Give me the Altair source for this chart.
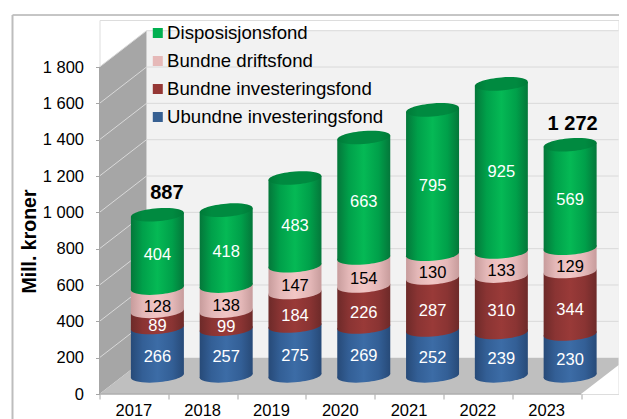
import altair as alt
import pandas as pd

years = ["2017", "2018", "2019", "2020", "2021", "2022", "2023"]
ubundne = [266, 257, 275, 269, 252, 239, 230]
bundne_inv = [89, 99, 184, 226, 287, 310, 344]
bundne_drift = [128, 138, 147, 154, 130, 133, 129]
disposisjon = [404, 418, 483, 663, 795, 925, 569]
series_names = ["Ubundne investeringsfond", "Bundne investeringsfond", "Bundne driftsfond", "Disposisjonsfond"]
series_values = [ubundne, bundne_inv, bundne_drift, disposisjon]
total_years = ["2017", "2023"]
total_values = [887, 1272]
total_texts = ["887", "1 272"]
axis_ticks = [0, 200, 400, 600, 800, 1000, 1200, 1400, 1600, 1800]

# geometry of the fake 3-D box, in data units
SLOT_PX = 68.79
UNIT_PX = 36.33 / 200
PLOT_W, PLOT_H = 519, 374
DEPTH_X = 47 / SLOT_PX
DEPTH_Y = 200
HALF_W = 26.5 / SLOT_PX
BAND = 7
TILT = 2 / UNIT_PX  # body shear, data units


def grad(edge, mid, centre):
    return alt.Gradient(
        gradient="linear", x1=0, x2=1, y1=0, y2=0,
        stops=[
            alt.GradientStop(color=edge, offset=0),
            alt.GradientStop(color=mid, offset=0.22),
            alt.GradientStop(color=centre, offset=0.5),
            alt.GradientStop(color=mid, offset=0.78),
            alt.GradientStop(color=edge, offset=1),
        ],
    )


fills = {
    "Ubundne investeringsfond": grad("#274a78", "#335f96", "#3c6ca6"),
    "Bundne investeringsfond": grad("#6d2a29", "#8a3433", "#993a38"),
    "Bundne driftsfond": grad("#c79c9c", "#e4b8b8", "#f2c6c5"),
    "Disposisjonsfond": grad("#04773a", "#00a04a", "#05b955"),
}
cap_fill = grad("#007a38", "#008a40", "#008a40")
legend_colors = ["#00b050", "#e6b9b8", "#953735", "#376092"]
text_colors = {"Bundne driftsfond": "#000000"}
label_dy = {"Ubundne investeringsfond": 5, "Bundne investeringsfond": 7, "Bundne driftsfond": 7, "Disposisjonsfond": 4}


# sheared-ellipse symbol in the -1..1 box
def ellipse_path(b=6.5 / 26.5, s=2 / 26.5, k=0.5523):
    pts = [(1, -s), (0, b), (-1, s), (0, -b)]
    tan = [(0, b), (-1, s), (0, -b), (1, -s)]
    d = f"M {pts[0][0]:.4f} {pts[0][1]:.4f}"
    for i in range(4):
        j = (i + 1) % 4
        c1 = (pts[i][0] + k * tan[i][0], pts[i][1] + k * tan[i][1])
        c2 = (pts[j][0] - k * tan[j][0], pts[j][1] - k * tan[j][1])
        d += f" C {c1[0]:.4f} {c1[1]:.4f} {c2[0]:.4f} {c2[1]:.4f} {pts[j][0]:.4f} {pts[j][1]:.4f}"
    return d + " Z"


CAP = ellipse_path()
CAP_SIZE = 53 ** 2

xs = alt.Scale(domain=[0, PLOT_W / SLOT_PX], range=[0, PLOT_W], nice=False, zero=False)
ys = alt.Scale(domain=[0, PLOT_H / UNIT_PX], range=[PLOT_H, 0], nice=False, zero=False)
slot_edges = list(range(0, BAND + 1))
fmt = "datum.value >= 1000 ? floor(datum.value/1000) + ' ' + format(datum.value % 1000, '03d') : '' + datum.value"
x_axis = alt.Axis(values=slot_edges, labels=False, grid=False, domain=False, tickColor="#a6a6a6", tickSize=5, title=None)
y_axis = alt.Axis(values=axis_ticks, labelExpr=fmt, grid=False, domain=False, tickColor="#a6a6a6",
                  tickSize=4, labelFontSize=16.5, labelFont="Liberation Sans", labelColor="#000000", labelPadding=12,
                  title="Mill. kroner", titleFont="Liberation Sans", titleFontSize=19.5, titleFontWeight="bold",
                  titleColor="#000000", titleX=-60.5, titleY=221, titleAngle=-90)
X = lambda f="x": alt.X(f"{f}:Q", scale=xs, axis=x_axis)
Y = lambda f="y": alt.Y(f"{f}:Q", scale=ys, axis=y_axis, stack=None)
Y2 = alt.Y2("y2:Q")

X_RIGHT = PLOT_W / SLOT_PX
layers = []

# back wall
layers.append(alt.Chart(pd.DataFrame({"x": [DEPTH_X, X_RIGHT], "y": [2000, 2000], "y2": [200, 200]}))
              .mark_area(color="#f2f2f2").encode(x=X(), y=Y(), y2=Y2))
# side wall
layers.append(alt.Chart(pd.DataFrame({"x": [0, DEPTH_X], "y": [1800, 2000], "y2": [0, 200]}))
              .mark_area(color="#a6a6a6").encode(x=X(), y=Y(), y2=Y2))
# floor
layers.append(alt.Chart(pd.DataFrame({"x": [0, DEPTH_X, BAND, BAND + DEPTH_X],
                                      "y": [0, 200, 200, 200], "y2": [0, 0, 0, 200]}))
              .mark_area(color="#bfbfbf", clip=True).encode(x=X(), y=Y(), y2=Y2))
# grid lines on back wall and side wall
grid = []
for t in axis_ticks:
    grid += [{"t": t, "x": 0, "y": t}, {"t": t, "x": DEPTH_X, "y": t + DEPTH_Y}, {"t": t, "x": X_RIGHT, "y": t + DEPTH_Y}]
grid = [g for g in grid if g["t"] > 0]
layers.append(alt.Chart(pd.DataFrame(grid)).mark_line(color="#d9d9d9", strokeWidth=1)
              .encode(x=X(), y=Y(), detail="t:N", order="x:Q"))

# cylinders
labels = []
base = [0] * len(years)
for name, vals in zip(series_names, series_values):
    caps = []
    for i, (yr, v) in enumerate(zip(years, vals)):
        cx = i + 0.5 + DEPTH_X / 2
        y0 = base[i] + DEPTH_Y / 2
        y1 = y0 + v
        body = pd.DataFrame({"x": [cx - HALF_W, cx + HALF_W], "y": [y1 - TILT, y1 + TILT], "y2": [y0 - TILT, y0 + TILT]})
        layers.append(alt.Chart(body).mark_area(fill=fills[name], opacity=1).encode(x=X(), y=Y(), y2=Y2))
        caps.append({"x": cx, "y": y0})
        labels.append({"x": cx, "y": (y0 + y1) / 2, "v": str(v), "s": name})
        base[i] += v
    layers.append(alt.Chart(pd.DataFrame(caps)).mark_point(shape=CAP, filled=True, fill=fills[name], opacity=1,
                                                           size=CAP_SIZE, strokeWidth=0)
                  .encode(x=X(), y=Y()))
# top lids
lids = [{"x": i + 0.5 + DEPTH_X / 2, "y": b + DEPTH_Y / 2} for i, b in enumerate(base)]
layers.append(alt.Chart(pd.DataFrame(lids)).mark_point(shape=CAP, filled=True, fill=cap_fill, opacity=1,
                                                       size=CAP_SIZE, strokeWidth=0)
              .encode(x=X(), y=Y()))

# value labels
ldf = pd.DataFrame(labels)
for name in series_names:
    layers.append(alt.Chart(ldf[ldf.s == name])
                  .mark_text(font="Liberation Sans", fontSize=16.5, color=text_colors.get(name, "#ffffff"),
                             dy=label_dy[name])
                  .encode(x=X(), y=Y(), text="v:N"))

# totals
for yr, val, txt, dx, dy in zip(total_years, total_values, total_texts, [9.5, 2.5], [-22, -21]):
    tot = pd.DataFrame({"x": [years.index(yr) + 0.5 + DEPTH_X / 2], "y": [val + DEPTH_Y / 2], "t": [txt]})
    layers.append(alt.Chart(tot)
                  .mark_text(font="Liberation Sans", fontSize=20, fontWeight="bold", color="#000000", dy=dy, dx=dx)
                  .encode(x=X(), y=Y(), text="t:N"))

# front edge of the floor and side wall, category labels
x_domain = alt.Chart(pd.DataFrame({"x": [0, BAND], "y": [0, 0]})).mark_line(color="#a6a6a6", strokeWidth=1).encode(x=X(), y=Y())
y_domain = alt.Chart(pd.DataFrame({"x": [0, 0], "y": [0, 1800]})).mark_line(color="#a6a6a6", strokeWidth=1).encode(x=X(), y=Y())
x_labels = alt.Chart(pd.DataFrame({"x": [i + 0.5 for i in range(7)], "y": [0] * 7, "t": years})).mark_text(
    font="Liberation Sans", fontSize=16.5, color="#000000", dy=16.5).encode(x=X(), y=Y(), text="t:N")

# outer frame
frame_top = alt.Chart(pd.DataFrame({"a": [0]})).mark_rule(color="#8c8c8c", strokeWidth=1).encode(
    x=alt.value(-87), x2=alt.value(PLOT_W + 5), y=alt.value(-5))
frame_left = alt.Chart(pd.DataFrame({"a": [0]})).mark_rule(color="#bdbdbd", strokeWidth=2).encode(
    x=alt.value(-87), y=alt.value(-5), y2=alt.value(PLOT_H + 30))

# legend
leg_order = list(reversed(series_names))
legend = alt.Chart(pd.DataFrame({"s": leg_order, "x": [0] * 4, "y": [0] * 4})).mark_square(size=0, opacity=1).encode(
    x=X(), y=Y(),
    color=alt.Color("s:N", scale=alt.Scale(domain=leg_order, range=legend_colors), sort=leg_order,
                    legend=alt.Legend(orient="none", legendX=49, legendY=3, title=None, symbolType="square",
                                      symbolSize=100, symbolStrokeWidth=0, symbolOpacity=1,
                                      labelFont="Liberation Sans", labelFontSize=18.6, labelColor="#000000",
                                      labelOffset=0, rowPadding=8, labelLimit=300, clipHeight=20)))

chart = alt.layer(*layers, x_domain, y_domain, x_labels, frame_top, frame_left, legend).properties(
    width=PLOT_W, height=PLOT_H,
    padding={"left": 91.5, "top": 12, "right": 0, "bottom": 25},
    autosize=alt.AutoSizeParams(type="none"),
).configure_view(stroke=None).configure(background="#ffffff")

chart.save("out.html", embed_options={"renderer": "svg", "actions": False})
